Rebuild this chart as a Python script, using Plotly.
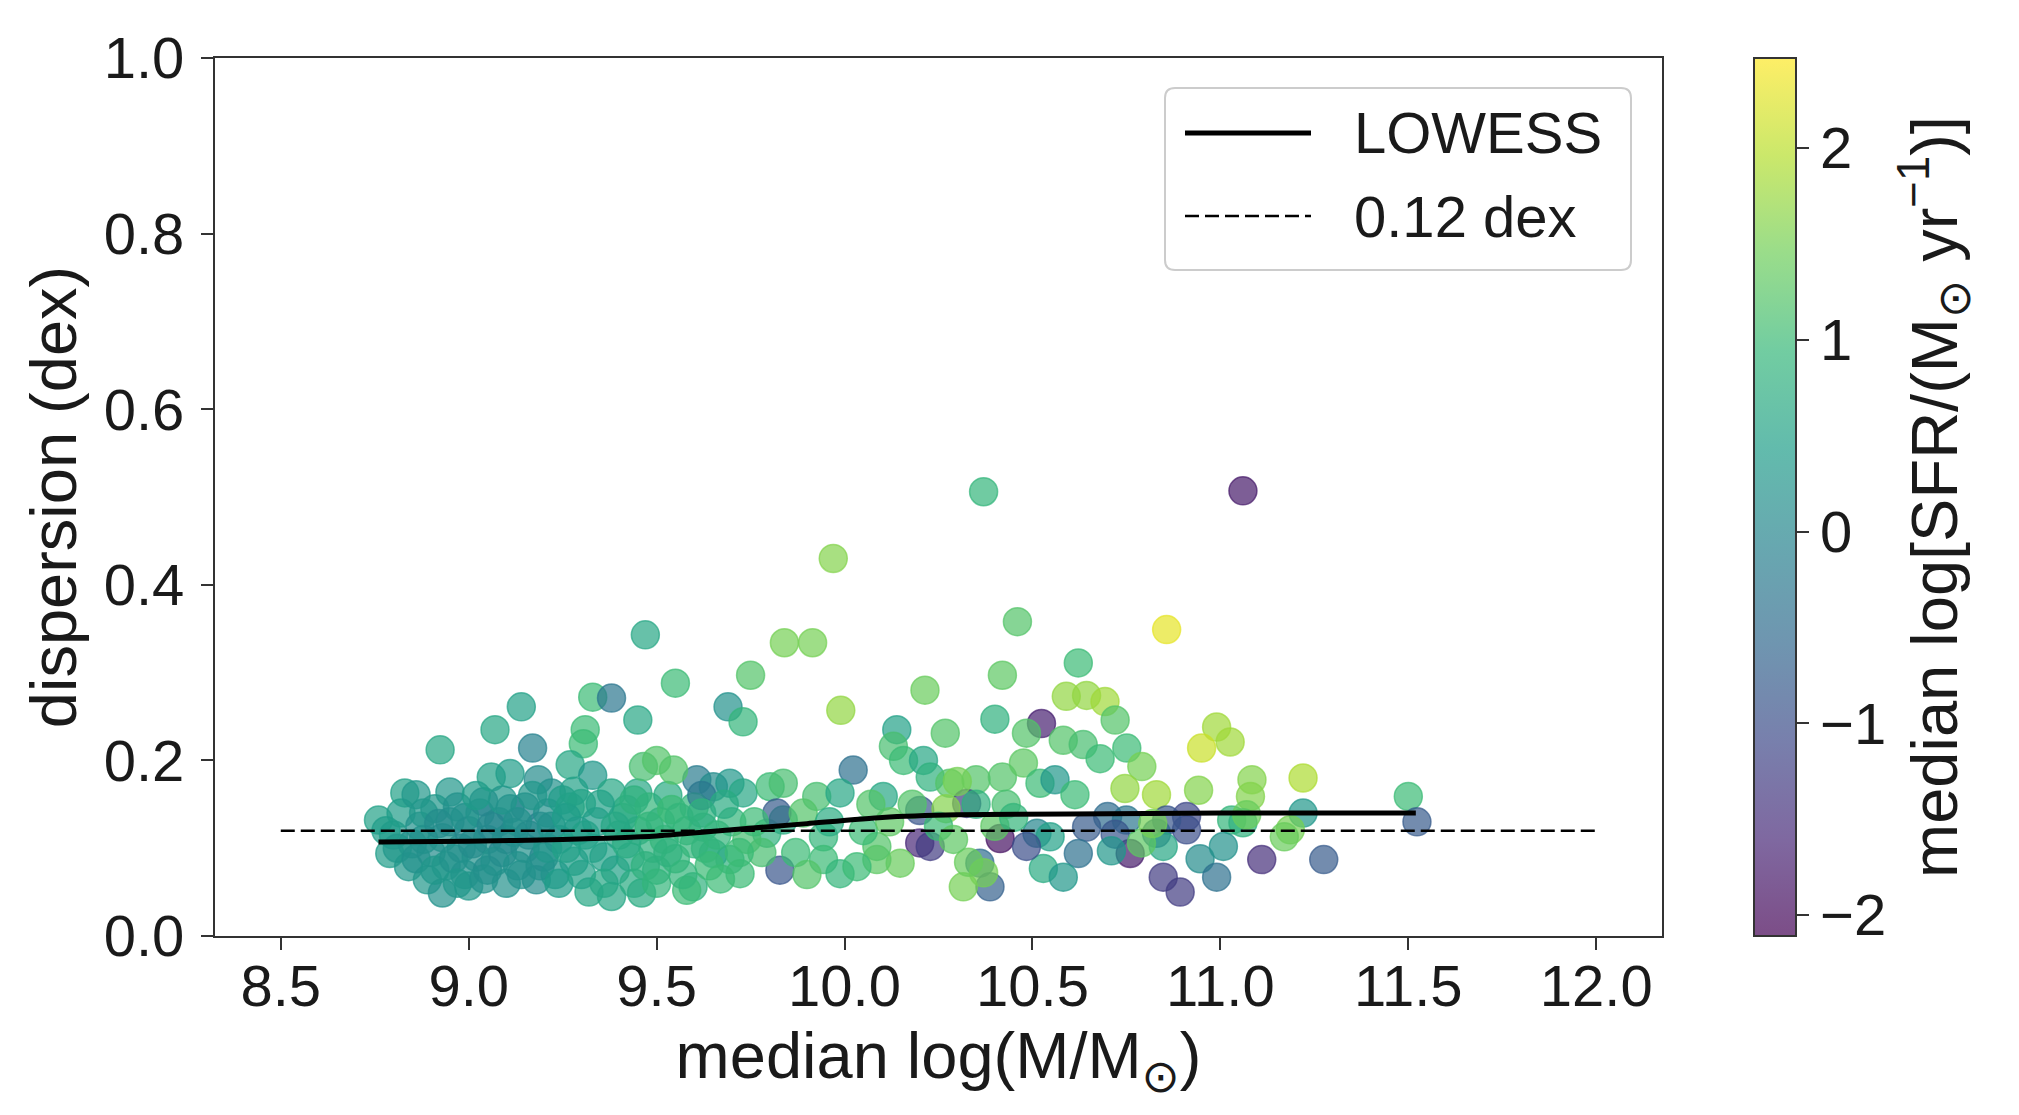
import plotly.graph_objects as go

# ---------------- data ----------------
mass = [
    # outliers / upper part
    10.37, 11.06, 9.97, 10.46, 10.857, 9.47, 9.84, 9.915, 9.55, 9.75,
    10.42, 10.622, 9.99, 10.214, 9.33, 9.38, 9.14, 9.69, 9.73, 10.40,
    10.59, 10.644, 10.693, 10.72, 9.07, 9.31, 9.305, 9.45, 10.524, 10.484,
    10.139, 10.13, 10.268, 10.99, 11.026, 10.95, 10.023, 8.924, 9.17, 10.751,
    10.791, 10.582, 10.635, 10.68, 10.157, 10.21, 10.228, 10.28, 10.35, 10.42,
    10.476, 10.52, 10.56, 10.613, 10.746, 10.83, 10.942, 11.084, 11.08, 11.22,
    11.50, 11.523, 10.91, 10.91, 11.22, 11.186, 11.17, 11.03, 11.06, 10.70,
    10.75, 10.644, 10.857, 10.83, 10.512, 10.547, 10.76, 10.848, 10.622, 10.848,
    10.893, 10.946, 10.99, 11.008, 11.11, 11.275, 10.529, 10.582, 10.20, 10.20,
    10.228, 10.325, 10.414, 10.484, 10.36, 10.387, 10.316, 10.148, 10.086, 10.086,
    9.944, 9.944, 9.988, 10.033, 9.828, 9.793, 9.837, 9.695, 9.722, 9.651,
    9.597, 9.624, 9.607, 9.651, 9.695, 9.73, 9.802, 9.837, 9.926, 9.988,
    10.103, 10.18, 10.27, 10.35, 10.43, 10.30, 10.37, 10.33, 10.72, 10.71,
    10.79, 10.82, 11.07, 9.82, 10.05, 10.12, 10.25, 10.29, 9.87, 9.89,
    9.90, 9.96, 10.07, 10.40, 10.45,
    # dense cluster
    8.76, 8.79, 8.80, 8.83, 8.84, 8.82, 8.85,
    8.86, 8.87, 8.89, 8.90, 8.91, 8.93, 8.93, 8.94, 8.95, 8.95,
    8.97, 8.98, 8.99, 9.00, 9.00, 9.02, 9.03, 9.04, 9.05, 9.05, 9.06,
    9.08, 9.09, 9.10, 9.11, 9.11, 9.12, 9.13, 9.15, 9.15,
    9.18, 9.185, 9.19, 9.20, 9.21, 9.22, 9.23, 9.24, 9.25,
    9.27, 9.27, 9.28, 9.29, 9.30, 9.32, 9.33, 9.33, 9.34,
    9.38, 9.38, 9.39, 9.40, 9.41, 9.42, 9.43, 9.44, 9.45, 9.45,
    9.465, 9.46, 9.48, 9.49, 9.50, 9.50, 9.51, 9.52, 9.53, 9.54, 9.545, 9.55,
    9.58, 9.58, 9.60, 9.62, 9.63, 9.64,
    9.70, 9.74, 9.78,
    8.78, 8.81, 8.86, 8.88, 8.88, 8.91, 8.92, 8.96, 8.97, 8.99,
    9.01, 9.02, 9.04, 9.06, 9.07, 9.09, 9.10, 9.13, 9.14, 9.16,
    9.17, 9.19, 9.21, 9.22, 9.24, 9.26, 9.26, 9.28, 9.30, 9.31,
    9.35, 9.36, 9.36, 9.39, 9.42, 9.44, 9.47, 9.48, 9.50, 9.53,
    9.56, 9.57, 9.60, 9.62, 9.66, 9.67, 9.68, 9.72, 9.76,
]
dispersion = [
    0.506, 0.507, 0.430, 0.358, 0.349, 0.343, 0.334, 0.334, 0.288, 0.297,
    0.297, 0.311, 0.257, 0.280, 0.272, 0.271, 0.261, 0.261, 0.244, 0.247,
    0.273, 0.274, 0.267, 0.246, 0.235, 0.235, 0.219, 0.246, 0.242, 0.231,
    0.235, 0.216, 0.231, 0.238, 0.221, 0.214, 0.189, 0.212, 0.214, 0.214,
    0.193, 0.223, 0.218, 0.202, 0.200, 0.200, 0.181, 0.174, 0.178, 0.181,
    0.197, 0.174, 0.178, 0.161, 0.168, 0.161, 0.166, 0.178, 0.159, 0.180,
    0.159, 0.130, 0.136, 0.121, 0.140, 0.121, 0.113, 0.132, 0.129, 0.136,
    0.132, 0.124, 0.132, 0.117, 0.117, 0.113, 0.094, 0.102, 0.094, 0.067,
    0.050, 0.088, 0.067, 0.102, 0.087, 0.087, 0.077, 0.067, 0.143, 0.106,
    0.102, 0.151, 0.111, 0.102, 0.083, 0.056, 0.056, 0.083, 0.087, 0.102,
    0.113, 0.087, 0.071, 0.079, 0.075, 0.117, 0.132, 0.087, 0.071, 0.094,
    0.056, 0.124, 0.178, 0.170, 0.174, 0.163, 0.170, 0.174, 0.159, 0.163,
    0.159, 0.150, 0.145, 0.150, 0.150, 0.176, 0.072, 0.084, 0.116, 0.097,
    0.106, 0.128, 0.138, 0.140, 0.120, 0.130, 0.125, 0.110, 0.095, 0.140,
    0.070, 0.130, 0.150, 0.125, 0.135,
    0.132, 0.094, 0.115, 0.163, 0.079, 0.140, 0.105,
    0.161, 0.125, 0.064, 0.095, 0.145, 0.049, 0.112, 0.080, 0.164, 0.130,
    0.147, 0.100, 0.070, 0.057, 0.120, 0.090, 0.140, 0.153, 0.075, 0.110, 0.181,
    0.130, 0.095, 0.060, 0.185, 0.145, 0.118, 0.080, 0.147, 0.100,
    0.064, 0.178, 0.125, 0.090, 0.140, 0.163, 0.070, 0.110, 0.155,
    0.195, 0.147, 0.085, 0.120, 0.151, 0.050, 0.183, 0.100, 0.130,
    0.163, 0.045, 0.075, 0.115, 0.135, 0.144, 0.090, 0.060, 0.163, 0.120,
    0.193, 0.049, 0.147, 0.100, 0.075, 0.200, 0.130, 0.110, 0.160, 0.144, 0.189, 0.088,
    0.052, 0.120, 0.147, 0.160, 0.100, 0.080,
    0.130, 0.110, 0.095,
    0.120, 0.100, 0.088, 0.140, 0.110, 0.075, 0.128, 0.088, 0.060, 0.135,
    0.105, 0.160, 0.065, 0.125, 0.085, 0.155, 0.110, 0.130, 0.070, 0.115,
    0.160, 0.080, 0.100, 0.125, 0.060, 0.135, 0.100, 0.165, 0.070, 0.115,
    0.150, 0.090, 0.060, 0.125, 0.105, 0.155, 0.080, 0.125, 0.060, 0.095,
    0.135, 0.070, 0.105, 0.140, 0.115, 0.065, 0.150, 0.095, 0.130,
]
sfr = [
    0.9, -1.8, 1.6, 1.2, 2.3, 0.6, 1.5, 1.5, 1.0, 1.2,
    1.3, 1.0, 1.7, 1.4, 1.0, -0.3, 0.5, 0.2, 0.9, 0.8,
    1.7, 1.7, 1.8, 1.2, 0.6, 1.0, 1.0, 0.6, -1.7, 1.2,
    0.5, 1.1, 1.2, 1.8, 1.8, 2.1, -0.4, 0.6, -0.1, 1.0,
    1.5, 1.2, 1.1, 1.0, 1.0, 0.6, 0.8, 1.2, 1.2, 1.2,
    1.3, 1.0, 0.3, 1.0, 1.7, 1.8, 1.6, 1.6, 1.6, 1.9,
    1.0, -0.8, -1.1, -1.0, 0.3, 1.5, 1.4, 0.9, 0.8, -0.5,
    -0.3, -0.8, -0.9, -0.6, 0.0, 0.5, -1.8, 0.6, -0.4, -1.3,
    -1.3, 0.1, -0.4, 0.2, -1.5, -0.8, 0.7, 0.3, -0.9, -1.6,
    -1.3, -1.3, -1.9, -1.0, -0.5, -0.7, 1.5, 1.4, 1.3, 1.2,
    0.9, 1.0, 0.9, 1.0, -0.9, 0.8, 0.7, 0.8, 1.0, 0.6,
    0.8, 0.7, -0.2, 0.1, 0.3, 0.6, 1.0, 1.1, 1.1, 0.6,
    0.6, 1.2, 1.6, 0.8, 1.1, 1.5, 1.5, 1.4, -0.9, 0.3,
    1.3, 1.5, 1.4, -0.8, 1.0, 1.3, 1.0, 1.3, 1.0, 1.2,
    1.2, 0.7, 1.2, 1.3, 0.9,
    0.5, 0.4, 0.3, 0.5, 0.3, 0.4, 0.2,
    0.3, 0.2, 0.3, 0.1, 0.3, 0.2, 0.2, 0.3, 0.3, 0.1,
    0.2, 0.1, 0.2, 0.3, 0.0, 0.2, 0.3, -0.1, 0.1, 0.2, 0.5,
    0.1, -0.1, 0.2, 0.4, 0.0, 0.1, 0.2, 0.0, 0.2,
    0.1, 0.1, -0.1, 0.0, 0.2, 0.2, 0.3, 0.1, 0.4,
    0.6, 0.5, 0.4, 0.3, 0.6, 0.6, 0.3, 0.5, 0.4,
    0.6, 0.6, 0.5, 0.6, 0.7, 0.7, 0.6, 0.7, 0.6, 0.7,
    1.1, 0.7, 0.9, 0.8, 0.8, 1.2, 0.8, 0.9, 0.7, 1.0, 1.2, 0.9,
    1.0, 0.9, 0.9, -0.3, 0.8, 1.0,
    0.9, 1.1, 1.1,
    0.4, 0.3, 0.2, 0.3, 0.2, 0.3, 0.1, 0.2, 0.3, 0.2,
    0.1, 0.4, 0.2, 0.0, 0.2, 0.3, 0.1, 0.2, 0.2, 0.1,
    0.3, 0.2, 0.3, 0.2, 0.4, 0.4, 0.5, 0.5, 0.5, 0.5,
    0.5, 0.5, 0.6, 0.6, 0.7, 0.8, 0.8, 0.9, 0.9, 0.8,
    0.9, 0.9, 0.9, 0.8, 0.9, 1.0, 0.7, 1.0, 1.0,
]

lowess_x = [8.76, 9.0, 9.25, 9.5, 9.7, 9.9, 10.1, 10.3, 10.6, 11.0, 11.52]
lowess_y = [0.107, 0.108, 0.110, 0.114, 0.121, 0.128, 0.135, 0.138, 0.139, 0.140, 0.140]

ref_x = [8.5, 12.0]
ref_y = [0.12, 0.12]

x_ticks = [8.5, 9.0, 9.5, 10.0, 10.5, 11.0, 11.5, 12.0]
y_ticks = [0.0, 0.2, 0.4, 0.6, 0.8, 1.0]
cb_ticks = [-2, -1, 0, 1, 2]
cb_labels = ["\u22122", "\u22121", "0", "1", "2"]

# ---------------- style ----------------
FONT = "Liberation Sans, Arial, DejaVu Sans, sans-serif"
FS = 58          # tick labels / legend
FS_T = 65        # axis titles
INK = "#1a1a1a"
ALPHA = 0.7
viridis = ['#440154', '#482878', '#3e4989', '#31688e', '#26828e',
           '#1f9e89', '#35b779', '#6ece58', '#b5de2b', '#fde725']


def rgba(h, a):
    h = h.lstrip('#')
    return "rgba(%d,%d,%d,%.2f)" % (int(h[0:2], 16), int(h[2:4], 16), int(h[4:6], 16), a)


cscale = [[i / (len(viridis) - 1), rgba(c, ALPHA)] for i, c in enumerate(viridis)]
CMIN, CMAX = -2.11, 2.47

# the page body adds an 8px offset; figure sized to fit the window
OFF = 8
W, H = 2019 - OFF, 1115 - OFF
L, T = 215 - OFF, 58 - OFF
R = W - (1662 - OFF)
B = H - (936 - OFF)
plot_w = W - L - R
plot_h = H - T - B

fig = go.Figure()

fig.add_trace(go.Scatter(
    x=mass, y=dispersion, mode="markers", showlegend=False,
    marker=dict(
        size=28, color=sfr, colorscale=cscale, cmin=CMIN, cmax=CMAX,
        line=dict(width=1.5, color=sfr, colorscale=cscale, cmin=CMIN, cmax=CMAX),
        colorbar=dict(
            x=(1754 - 215) / plot_w, xanchor="left", xref="paper",
            y=0.5, yanchor="middle", len=plot_h, lenmode="pixels",
            thickness=42, thicknessmode="pixels",
            outlinewidth=2, outlinecolor="#333",
            tickvals=cb_ticks, ticktext=cb_labels,
            ticks="outside", ticklen=12, tickwidth=2, tickcolor="#333",
            tickfont=dict(family=FONT, size=FS, color=INK),
            title=dict(text="median log[SFR/(M<sub>\u2299</sub> yr<sup>\u22121</sup>)]",
                       side="right", font=dict(family=FONT, size=FS_T, color=INK)),
            ypad=0, xpad=0,
        ),
    ),
))

fig.add_trace(go.Scatter(
    x=lowess_x, y=lowess_y, mode="lines", name="LOWESS", showlegend=False,
    line=dict(color="black", width=5, shape="spline", smoothing=0.6),
))
fig.add_trace(go.Scatter(
    x=ref_x, y=ref_y, mode="lines", name="0.12 dex", showlegend=False,
    line=dict(color="black", width=2.5, dash="14px,6px"),
))


# ---------------- legend drawn as a framed box ----------------
def px_x(p):
    # p: pixel x in the reference image
    return (p - 215) / plot_w


def px_y(p):
    # p: pixel y in the reference image
    return (936 - p) / plot_h


bx0, bx1, by0, by1 = px_x(1165), px_x(1631), px_y(270), px_y(88)
rx, ry = 10 / plot_w, 10 / plot_h
path = (f"M {bx0+rx},{by0} L {bx1-rx},{by0} Q {bx1},{by0} {bx1},{by0+ry} "
        f"L {bx1},{by1-ry} Q {bx1},{by1} {bx1-rx},{by1} L {bx0+rx},{by1} "
        f"Q {bx0},{by1} {bx0},{by1-ry} L {bx0},{by0+ry} Q {bx0},{by0} {bx0+rx},{by0} Z")
shapes = [
    dict(type="path", xref="paper", yref="paper", path=path,
         line=dict(color="#cccccc", width=2), fillcolor="rgba(255,255,255,0.85)", layer="above"),
    dict(type="line", xref="paper", yref="paper", x0=px_x(1185), x1=px_x(1311),
         y0=px_y(133), y1=px_y(133), line=dict(color="black", width=5)),
    dict(type="line", xref="paper", yref="paper", x0=px_x(1185), x1=px_x(1311),
         y0=px_y(216), y1=px_y(216), line=dict(color="black", width=2.5, dash="14px,6px")),
]
annotations = [
    dict(xref="paper", yref="paper", x=px_x(1352), y=px_y(133), text="LOWESS",
         showarrow=False, xanchor="left", yanchor="middle",
         font=dict(family=FONT, size=FS, color=INK)),
    dict(xref="paper", yref="paper", x=px_x(1352), y=px_y(216), text="0.12 dex",
         showarrow=False, xanchor="left", yanchor="middle",
         font=dict(family=FONT, size=FS, color=INK)),
]

axis_common = dict(
    showline=True, mirror=True, linecolor="#333", linewidth=2,
    ticks="outside", ticklen=12, tickwidth=2, tickcolor="#333",
    showgrid=False, zeroline=False,
    tickfont=dict(family=FONT, size=FS, color=INK),
)

fig.update_layout(
    width=W, height=H,
    margin=dict(l=L, r=R, t=T, b=B, autoexpand=False),
    paper_bgcolor="white", plot_bgcolor="white",
    xaxis=dict(range=[8.325, 12.175], tickvals=x_ticks,
               ticktext=["%.1f" % v for v in x_ticks],
               ticklabelstandoff=-14,
               title=dict(text="median log(M/M<sub>\u2299</sub>)",
                          font=dict(family=FONT, size=FS_T, color=INK), standoff=16),
               **axis_common),
    yaxis=dict(range=[0, 1], tickvals=y_ticks,
               ticktext=["%.1f" % v for v in y_ticks],
               ticklabelstandoff=5,
               title=dict(text="dispersion (dex)",
                          font=dict(family=FONT, size=FS_T, color=INK), standoff=6),
               **axis_common),
    shapes=shapes, annotations=annotations,
    showlegend=False,
)

fig.write_html("out.html")
